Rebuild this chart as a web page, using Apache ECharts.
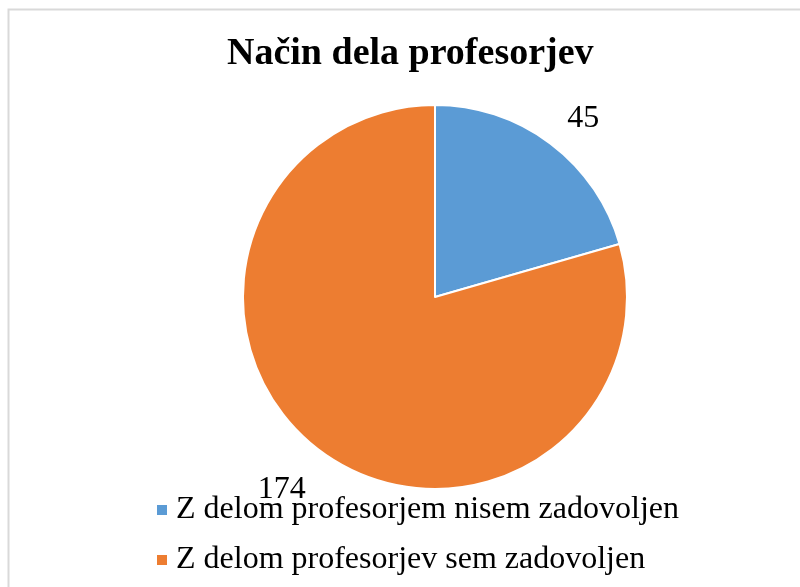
<!DOCTYPE html>
<html><head><meta charset="utf-8">
<script src="https://cdn.jsdelivr.net/npm/echarts@6/dist/echarts.min.js"></script>
<style>
html,body{margin:0;padding:0;background:#fff;}
#c{width:800px;height:587px;}
</style></head>
<body><div id="c"></div>
<script>
const title = 'Način dela profesorjev';
const categories = ['Z delom profesorjem nisem zadovoljen', 'Z delom profesorjev sem zadovoljen'];
const values = [45, 174];
const colors = ['#5B9BD5', '#ED7D31'];

const labelShift = [[-5, -3], [8, 17]];

const chart = echarts.init(document.getElementById('c'));
const font = '"Liberation Serif", "Times New Roman", serif';
chart.setOption({
  animation: false,
  backgroundColor: '#fff',
  color: colors,
  graphic: [{
    type: 'rect', left: 6, top: 7, shape: {width: 900, height: 700},
    style: {fill: 'none', stroke: '#d9d9d9', lineWidth: 2}, silent: true
  }],
  title: {
    text: title, left: 222, top: 30,
    textStyle: {fontFamily: font, fontSize: 38, fontWeight: 'bold', color: '#000'}
  },
  legend: {
    orient: 'vertical', left: 152, top: 489,
    icon: 'rect', itemWidth: 10, itemHeight: 10, itemGap: 18,
    itemStyle: {borderWidth: 0},
    textStyle: {fontFamily: font, fontSize: 32, lineHeight: 32, color: '#000', padding: [0, 0, 0, 4]},
    data: categories
  },
  series: [{
    type: 'pie', center: [435, 297], radius: 192,
    startAngle: 90, clockwise: true,
    itemStyle: {borderColor: '#fff', borderWidth: 2},
    label: {
      show: true, position: 'outside', formatter: '{c}',
      fontFamily: font, fontSize: 32, color: '#000'
    },
    labelLine: {show: false, length: 28, length2: 0},
    labelLayout: (p) => ({dx: labelShift[p.dataIndex][0], dy: labelShift[p.dataIndex][1]}),
    emphasis: {disabled: true},
    data: categories.map((n, i) => ({name: n, value: values[i]}))
  }]
});
</script></body></html>
